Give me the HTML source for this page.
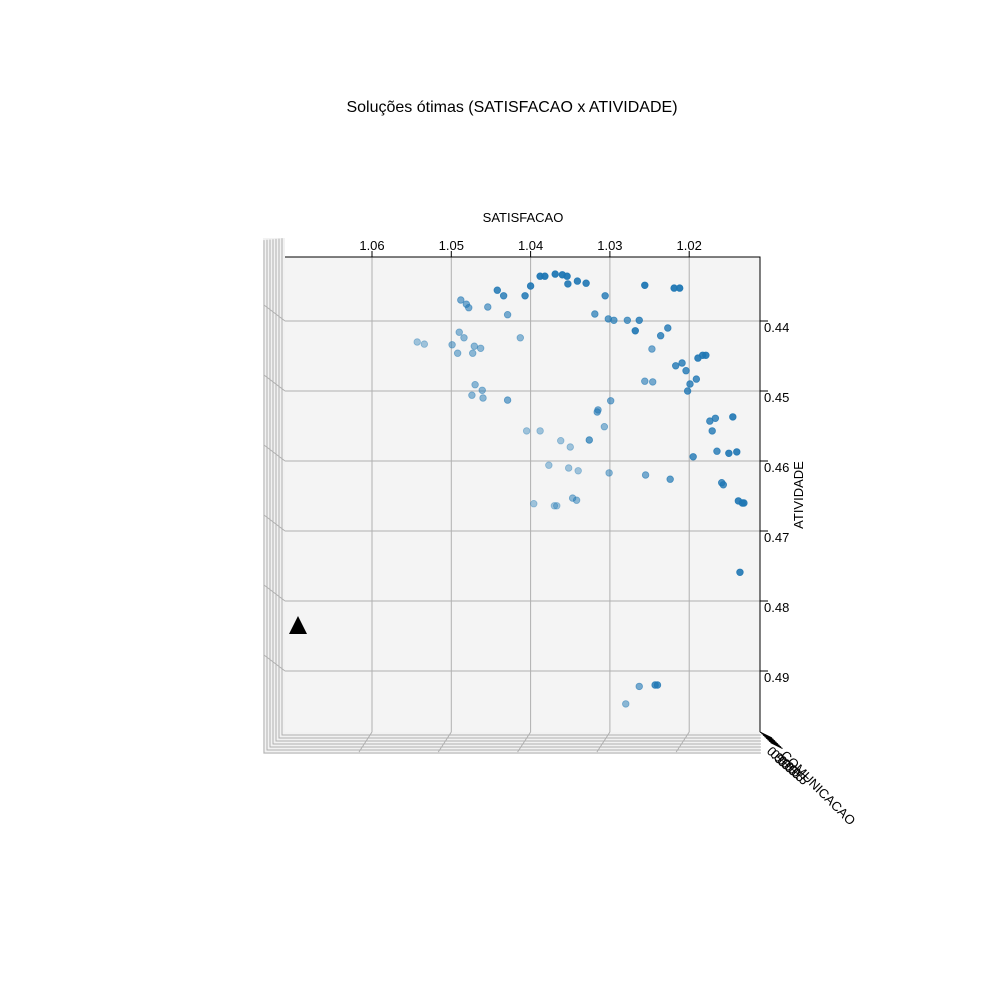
<!DOCTYPE html>
<html><head><meta charset="utf-8"><style>body{margin:0;background:#fff}svg{display:block;font-family:"Liberation Sans",sans-serif}</style></head>
<body>
<svg id="chart" width="1000" height="1000" viewBox="0 0 1000 1000">
<text x="512" y="112" font-size="16" text-anchor="middle">Soluções ótimas (SATISFACAO x ATIVIDADE)</text>
<g id="frame"></g>
<g id="pts"></g>
</svg>
<script>
const satTicks=[1.06,1.05,1.04,1.03,1.02];
const atvTicks=[0.44,0.45,0.46,0.47,0.48,0.49];
const satisfacao=[1.0388,1.0382,1.0369,1.0360,1.0354,1.0353,1.0341,1.0330,1.0400,1.0442,1.0434,1.0407,1.0306,1.0256,1.0219,1.0212,1.0488,1.0481,1.0478,1.0454,1.0429,1.0319,1.0302,1.0295,1.0278,1.0263,1.0227,1.0268,1.0236,1.0490,1.0484,1.0413,1.0543,1.0534,1.0499,1.0471,1.0463,1.0492,1.0473,1.0247,1.0183,1.0179,1.0189,1.0209,1.0217,1.0204,1.0191,1.0199,1.0202,1.0256,1.0246,1.0470,1.0461,1.0474,1.0460,1.0429,1.0299,1.0315,1.0316,1.0167,1.0145,1.0174,1.0307,1.0171,1.0405,1.0388,1.0326,1.0362,1.0350,1.0165,1.0150,1.0140,1.0195,1.0377,1.0352,1.0340,1.0301,1.0255,1.0224,1.0159,1.0157,1.0347,1.0342,1.0138,1.0133,1.0131,1.0396,1.0370,1.0367,1.0136,1.0263,1.0243,1.0240,1.0280];
const atividade=[0.4336,0.4336,0.4333,0.4334,0.4336,0.4347,0.4343,0.4346,0.4350,0.4356,0.4364,0.4364,0.4364,0.4349,0.4353,0.4353,0.4370,0.4376,0.4381,0.4380,0.4391,0.4390,0.4397,0.4399,0.4399,0.4399,0.4410,0.4414,0.4421,0.4416,0.4424,0.4424,0.4430,0.4433,0.4434,0.4436,0.4439,0.4446,0.4446,0.4440,0.4449,0.4449,0.4453,0.4460,0.4464,0.4471,0.4483,0.4490,0.4500,0.4486,0.4487,0.4491,0.4499,0.4506,0.4510,0.4513,0.4514,0.4527,0.4530,0.4539,0.4537,0.4543,0.4551,0.4557,0.4557,0.4557,0.4570,0.4571,0.4580,0.4586,0.4589,0.4587,0.4594,0.4606,0.4610,0.4614,0.4617,0.4620,0.4626,0.4631,0.4634,0.4653,0.4656,0.4657,0.4660,0.4660,0.4661,0.4664,0.4664,0.4759,0.4922,0.4920,0.4920,0.4947];
const comunicacao=[0.95,0.95,0.95,0.95,0.95,0.9,0.9,0.9,0.9,0.85,0.8,0.85,0.8,0.95,0.95,0.95,0.6,0.6,0.6,0.6,0.6,0.7,0.7,0.7,0.7,0.8,0.8,0.9,0.8,0.5,0.5,0.5,0.4,0.4,0.5,0.5,0.5,0.5,0.5,0.6,0.9,0.9,0.9,0.8,0.8,0.8,0.8,0.8,0.8,0.6,0.6,0.5,0.5,0.5,0.5,0.6,0.6,0.6,0.6,0.8,0.9,0.8,0.5,0.8,0.4,0.4,0.7,0.4,0.4,0.8,0.9,0.9,0.8,0.4,0.4,0.4,0.5,0.6,0.7,0.8,0.8,0.5,0.5,0.9,0.9,0.9,0.4,0.4,0.4,0.9,0.6,0.8,0.8,0.5];
const NS="http://www.w3.org/2000/svg";
const X0=285,X1=760,Y0=257,Y1=732;
const xs=v=>372+(1.06-v)*7930, ys=v=>321+(v-0.44)*7000;
const fr=document.getElementById('frame'),pg=document.getElementById('pts');
function mk(p,tag,at,txt){const e=document.createElementNS(NS,tag);for(const k in at)e.setAttribute(k,at[k]);if(txt!==undefined)e.textContent=txt;p.appendChild(e);return e;}
let e;
e=mk(fr,'rect',{x:263,y:238,width:22,height:516,fill:'#f2f2f2'});

e=mk(fr,'rect',{x:263,y:732,width:497,height:22,fill:'#f2f2f2'});

e=mk(fr,'rect',{x:X0,y:Y0,width:X1-X0,height:Y1-Y0,fill:'#f4f4f4'});

for(let i=1;i<=7;i++){const o=i*3;
 e=mk(fr,'path',{d:`M${X0-o} ${Y0-19+o*0.1}V${Y1+o}H${X1+1}`,fill:'none',stroke:'#b0b0b0','stroke-width':1});
 }
satTicks.forEach(t=>{const x=xs(t);
 e=mk(fr,'line',{x1:x,y1:Y0,x2:x,y2:Y1,stroke:'#b0b0b0'});
 e=mk(fr,'line',{x1:x,y1:Y1,x2:x-13,y2:Y1+20,stroke:'#b0b0b0'});
 e=mk(fr,'line',{x1:x,y1:Y0,x2:x,y2:Y0-6,stroke:'#000'});
 e=mk(fr,'text',{x:x,y:250,'font-size':13,'text-anchor':'middle'},t.toFixed(2));});
atvTicks.forEach(t=>{const y=ys(t);
 e=mk(fr,'line',{x1:X0,y1:y,x2:X1,y2:y,stroke:'#b0b0b0'});
 e=mk(fr,'line',{x1:X0,y1:y,x2:X0-21,y2:y-16,stroke:'#b0b0b0'});
 e=mk(fr,'line',{x1:X1,y1:y,x2:X1+8,y2:y,stroke:'#000'});
 e=mk(fr,'text',{x:764,y:y+11,'font-size':13},t.toFixed(2));});
e=mk(fr,'path',{d:`M${X0} ${Y0}H${X1}V${Y1}`,fill:'none',stroke:'#000'});
for(let i=0;i<8;i++){e=mk(fr,'line',{x1:X1+i*1.5,y1:Y1+i*1.5,x2:X1+i*1.5+12,y2:Y1+i*1.5+6,stroke:'#000'});}
for(let i=0;i<8;i++){e=mk(fr,'text',{x:0,y:0,'font-size':13,transform:`translate(${766+i*3.5},${752+i*3})`+' rotate(45)'},'0.5');}
e=mk(fr,'text',{x:0,y:0,'font-size':13,transform:'translate(780,756) rotate(45)'},'COMUNICACAO');
e=mk(fr,'text',{x:523,y:222,'font-size':13,'text-anchor':'middle'},'SATISFACAO');
e=mk(fr,'text',{x:0,y:0,'font-size':13,'text-anchor':'middle',transform:'translate(803,495) rotate(-90)'},'ATIVIDADE');
satisfacao.forEach((s,i)=>{
 const c=mk(pg,'circle',{cx:xs(s),cy:ys(atividade[i]),r:3.3,fill:'#1f77b4','fill-opacity':comunicacao[i],stroke:'#1f77b4','stroke-opacity':comunicacao[i],'stroke-width':0.8});
 
 });
e=mk(pg,'polygon',{points:'298,616 289,634 307,634',fill:'#000'});
</script>
</body></html>
